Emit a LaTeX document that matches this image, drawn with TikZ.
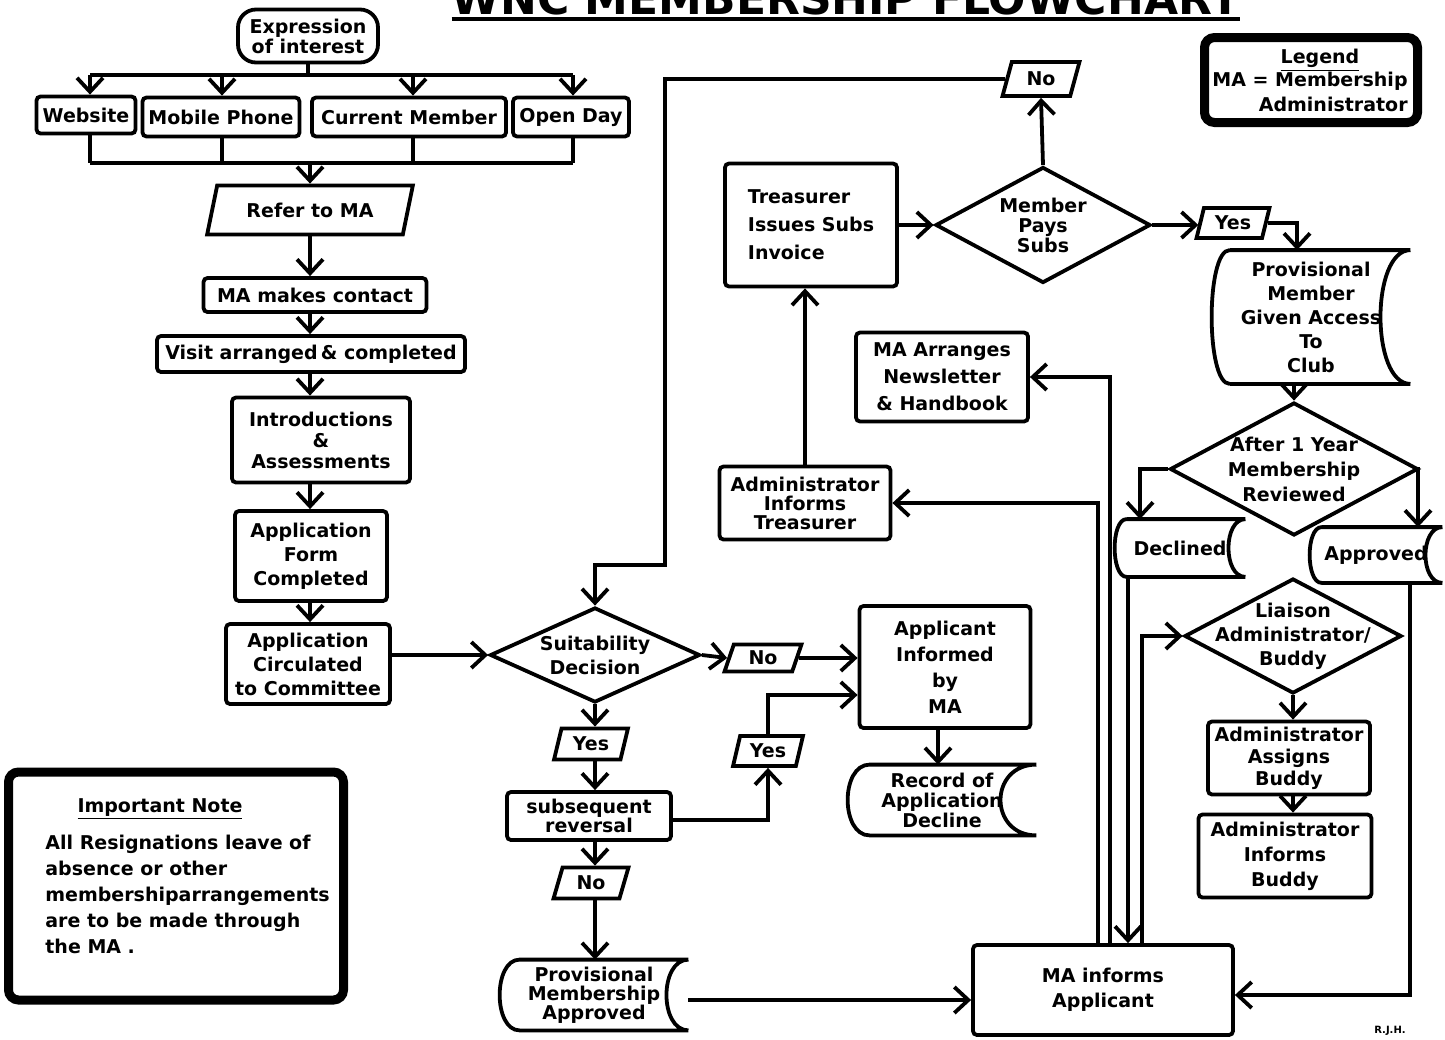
\documentclass[tikz,border=0pt]{standalone}
\usepackage{fontspec}
\setmainfont{DejaVu Sans}
\usetikzlibrary{arrows.meta}
\usetikzlibrary{shapes.geometric}
\tikzset{txt/.style={font=\fontsize{9.5}{#1}\selectfont\bfseries},txt/.default=12}
\tikzstyle{barbs}=[>/.tip={Straight Barb[length=7pt,width=13pt]}]
\tikzstyle{ln}=[line width=1.9pt]
\tikzstyle{arr}=[ln,barbs,->]
\tikzstyle{box}=[draw,ln,rounded corners=2pt,align=center,inner sep=1pt,txt]
\tikzstyle{flag}=[draw,ln,trapezium,trapezium left angle=72,trapezium right angle=108,trapezium stretches=true,inner sep=0pt,txt]
\tikzstyle{choice}=[draw,ln,diamond,aspect=2,inner sep=-10pt,align=center,txt]
\tikzstyle{stored}=[align=center,inner sep=0pt,txt]
\tikzstyle{heavy}=[draw,line width=4.5pt,rounded corners=5pt]
% outline of a stored-data symbol round node #1 (left bulge #2, right hollow #3)
\newcommand\storedpath[3]{%
  \draw[ln] ([xshift=#2]#1.north west) -- (#1.north east)
    ([xshift=#2]#1.south west) -- (#1.south east)
    ([xshift=#2]#1.north west) .. controls ([xshift=-0.33*#2]#1.north west) and ([xshift=-0.33*#2]#1.south west) .. ([xshift=#2]#1.south west)
    (#1.north east) .. controls ([xshift=-1.33*#3]#1.north east) and ([xshift=-1.33*#3]#1.south east) .. (#1.south east);}

\begin{document}
\begin{tikzpicture}[x=0.5pt,y=-0.5pt]
\useasboundingbox (0,0) rectangle (1445,1039);
\node[font=\fontsize{22}{22}\selectfont\bfseries,anchor=base,inner sep=0pt] (title) at (846,14) {WNC MEMBERSHIP FLOWCHART};
\draw[ln] ([yshift=-2.5pt]title.base west) -- ([yshift=-2.5pt]title.base east);

% legend and note
\node[heavy,minimum width=106.5pt,minimum height=42.5pt] (legend) at (1311,80) {};
\node[txt,anchor=base] (legendhead) at (1320,63) {\underline{Legend}};
\node[txt=12.5,align=right,anchor=north east,inner sep=0pt] (legendtext) at (1408,72) {MA = Membership\\Administrator};
\node[heavy,minimum width=167.5pt,minimum height=114pt] (note) at (176,886) {};
\node[txt,anchor=base] (notehead) at (160,812) {\underline{Important Note}};
\node[txt=13,align=left,anchor=north west,inner sep=0pt] (notetext) at (45,835) {All Resignations leave of\\absence or other\\membershiparrangements\\are to be made through\\the MA .};
\node[font=\fontsize{5}{5}\selectfont\bfseries] (sign) at (1390,1031) {R.J.H.};

% left column
\node[box,rounded corners=9pt,txt=10,minimum width=70pt,minimum height=26.5pt] (expr) at (308,36) {Expression\\of interest};
\node[box,minimum width=49.5pt,minimum height=18.5pt] (website) at (86,115) {Website};
\node[box,minimum width=78.5pt,minimum height=19.5pt] (mobile) at (221,117) {Mobile Phone};
\node[box,minimum width=97pt,minimum height=19.5pt] (current) at (409,117) {Current Member};
\node[box,minimum width=58pt,minimum height=19.5pt] (openday) at (571,117) {Open Day};
\node[flag,trapezium left angle=65,trapezium right angle=115,minimum width=103pt,minimum height=24.5pt] (refer) at (310,210) {Refer to MA};
\node[box,minimum width=111.5pt,minimum height=17pt] (contact) at (315,295) {MA makes contact};
\node[box,minimum width=154pt,minimum height=18pt] (visit) at (311,354) {Visit arranged\,\& completed};
\node[box,txt=10.5,minimum width=89pt,minimum height=42.5pt] (intro) at (321,440) {Introductions\\\&\\Assessments};
\node[box,minimum width=76pt,minimum height=45pt] (appform) at (311,556) {Application\\Form\\Completed};
\node[box,minimum width=82pt,minimum height=40pt] (appcirc) at (308,664) {Application\\Circulated\\to Committee};

% decision column
\node[choice,minimum width=105pt,minimum height=47.5pt] (suit) at (595,655) {Suitability\\Decision};
\node[flag,minimum width=38.5pt,minimum height=13.5pt] (noright) at (763,658) {No};
\node[box,txt=13,minimum width=85.5pt,minimum height=61pt] (applicant) at (945,667) {Applicant\\Informed\\by\\MA};
\node[flag,minimum width=37pt,minimum height=15.5pt] (yesdown) at (591,744) {Yes};
\node[box,txt=9.5,minimum width=82pt,minimum height=24pt] (reversal) at (589,816) {subsequent\\reversal};
\node[flag,minimum width=35pt,minimum height=15pt] (yesright) at (768,751) {Yes};
\node[flag,minimum width=37.5pt,minimum height=15.5pt] (nodown) at (591,883) {No};
\node[stored,txt=9.5,minimum width=94pt,minimum height=35pt] (provapp) at (594,995) {Provisional\\Membership\\Approved};
\node[stored,txt=10,minimum width=94pt,minimum height=35pt] (record) at (942,800) {Record of\\Application\\Decline};
\node[box,txt=12.5,minimum width=130pt,minimum height=45pt] (informapp) at (1103,990) {MA informs\\Applicant};

% middle and right
\node[box,txt=9.5,minimum width=85.5pt,minimum height=36.5pt] (admtreas) at (805,503) {Administrator\\Informs\\Treasurer};
\node[box,txt=14,align=left,minimum width=86pt,minimum height=61.5pt] (treasurer) at (811,225) {Treasurer\\Issues Subs\\Invoice};
\node[box,txt=13.5,minimum width=86pt,minimum height=44.5pt] (newsletter) at (942,377) {MA Arranges\\Newsletter\\\& Handbook};
\node[choice,txt=10,minimum width=107.5pt,minimum height=58pt] (pays) at (1043,225) {Member\\Pays\\Subs};
\node[flag,minimum width=38.5pt,minimum height=17pt] (notop) at (1041,79) {No};
\node[flag,minimum width=36.5pt,minimum height=15pt] (yestop) at (1233,223) {Yes};
\node[stored,minimum width=99pt,minimum height=66.5pt] (access) at (1311,317) {Provisional\\Member\\Given Access\\To\\Club};
\node[choice,txt=12.5,minimum width=124pt,minimum height=66.5pt] (review) at (1294,469) {After 1 Year\\Membership\\Reviewed};
\node[stored,minimum width=65pt,minimum height=28.5pt] (declined) at (1180,548) {Declined};
\node[stored,minimum width=66pt,minimum height=27.5pt] (approved) at (1376,555) {Approved};
\node[choice,minimum width=108.5pt,minimum height=57.5pt] (liaison) at (1293,636) {Liaison\\Administrator/\\Buddy};
\node[box,txt=11,minimum width=81pt,minimum height=36.5pt] (assigns) at (1289,758) {Administrator\\Assigns\\Buddy};
\node[box,txt=12.5,minimum width=86.5pt,minimum height=41.5pt] (informs) at (1285,856) {Administrator\\Informs\\Buddy};

\storedpath{provapp}{10pt}{11pt}
\storedpath{record}{11pt}{18pt}
\storedpath{access}{9pt}{15pt}
\storedpath{declined}{6pt}{8.5pt}
\storedpath{approved}{6pt}{8.5pt}

% routes of enquiry
\coordinate (topbus) at (308,75);
\coordinate (botbus) at (310,163);
\draw[ln] (expr.south) -- (topbus);
\draw[ln] ([xshift=2pt]website.north |- topbus) -- ([xshift=1pt]openday.north |- topbus);
\draw[ln] ([xshift=2pt]website.south |- botbus) -- ([xshift=1pt]openday.south |- botbus);
\foreach \n/\dx in {website/2pt,mobile/0.5pt,current/2pt,openday/1pt} {
  \draw[arr] ([xshift=\dx]\n.north |- topbus) -- ([xshift=\dx]\n.north);
  \draw[ln] ([xshift=\dx]\n.south) -- ([xshift=\dx]\n.south |- botbus);
}
\draw[arr] (botbus) -- (refer.north);
\draw[arr] (refer.south) -- (refer.south |- contact.north);
\draw[arr] (refer.south |- contact.south) -- (refer.south |- visit.north);
\draw[arr] (refer.south |- visit.south) -- (refer.south |- intro.north);
\draw[arr] (refer.south |- intro.south) -- (refer.south |- appform.north);
\draw[arr] (refer.south |- appform.south) -- (refer.south |- appcirc.north);
\draw[arr] (appcirc.east |- suit.west) -- (suit.west);

% decision
\draw[arr] (suit.east) -- (noright.west);
\draw[arr] (noright.east) -- (noright.east -| applicant.west);
\draw[arr] (suit.south) -- (suit.south |- yesdown.north);
\draw[arr] (suit.south |- yesdown.south) -- (suit.south |- reversal.north);
\draw[arr] (suit.south |- reversal.south) -- (suit.south |- nodown.north);
\draw[arr] (suit.south |- nodown.south) -- (suit.south |- provapp.north);
\draw[arr] ([yshift=-2pt]reversal.east) -| (yesright.south);
\coordinate (yesbend) at (768,695);
\draw[arr] (yesright.north) |- (applicant.west |- yesbend);
\draw[arr] ([xshift=-3.5pt]applicant.south) -- ([xshift=-3.5pt]applicant.south |- record.north);
\draw[arr] ([yshift=-2.5pt]provapp.east) -- ([yshift=-2.5pt]provapp.east -| informapp.west);

% subs
\draw[arr] ([xshift=-2.5pt]informapp.north) |- (admtreas.east);
\draw[arr] ([xshift=3.5pt]informapp.north) |- (newsletter.east);
\draw[arr] (admtreas.north) -- (admtreas.north |- treasurer.south);
\draw[arr] (treasurer.east) -- (pays.west);
\draw[arr] (pays.north) -- (notop.south);
\coordinate (nobend) at (665,565);
\draw[arr] (notop.west) -| (nobend) -| (suit.north);
\draw[arr] (pays.east) -- (pays.east -| yestop.west);
\draw[arr] (yestop.east) -| ([xshift=-7pt]access.north);
\draw[arr] (review.north |- access.south) -- (review.north);

% review
\draw[arr] (review.west) -| ([xshift=-20pt]declined.north);
\draw[arr] (review.east) -| ([xshift=21pt]approved.north);
\draw[arr] ([xshift=-26pt]declined.south) -- ([xshift=-26pt]declined.south |- informapp.north);
\draw[arr] ([xshift=17pt]approved.south) |- ([yshift=-2.5pt]informapp.east);
\draw[arr] ([xshift=19.5pt]informapp.north) |- (liaison.west);
\draw[arr] (liaison.south) -- (liaison.south |- assigns.north);
\draw[arr] (liaison.south |- assigns.south) -- (liaison.south |- informs.north);
\end{tikzpicture}
\end{document}
